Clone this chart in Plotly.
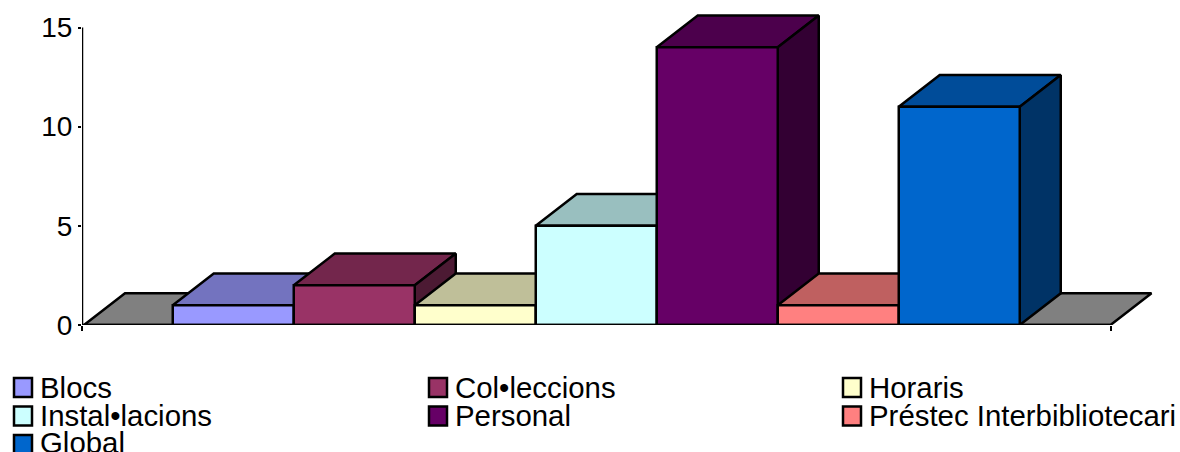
import plotly.graph_objects as go

categories = ["Blocs", "Col\u2022leccions", "Horaris", "Instal\u2022lacions", "Personal", "Préstec Interbibliotecari", "Global"]
values = [1, 2, 1, 5, 14, 1, 11]
colors = ["#9999FF", "#993366", "#FFFFCC", "#CCFFFF", "#660066", "#FF8080", "#0066CC"]
y_ticks = [0, 5, 10, 15]

W, H = 1180, 452
L, R, T, B = 82, 1160, 10, 325
BAR_PX = 121.0
XMIN = -0.75
XMAX = XMIN + (R - L) / BAR_PX
YMAX = (B - T) / (297.5 / 15)
DX = 41 / BAR_PX
DY = 1.6
AXIS_END = 7.75
LW = 2.5
FONT = "Liberation Sans, Arial, sans-serif"


def shade(hex_color, k):
    r, g, b = (int(hex_color[i:i + 2], 16) for i in (1, 3, 5))
    return f"rgb({round(r * k)},{round(g * k)},{round(b * k)})"


def poly(xs, ys, fill):
    return go.Scatter(x=xs + xs[:1], y=ys + ys[:1], mode="lines", fill="toself", fillcolor=fill,
                      line=dict(color="black", width=LW), cliponaxis=False,
                      showlegend=False, hoverinfo="skip")


fig = go.Figure()
fx = XMIN + 2 / BAR_PX
fig.add_trace(poly([fx, fx + DX, AXIS_END + DX, AXIS_END], [0, DY, DY, 0], "#808080"))
for i, (v, c) in enumerate(zip(values, colors)):
    fig.add_trace(poly([i, i + DX, i + 1 + DX, i + 1], [v, v + DY, v + DY, v], shade(c, 0.75)))
    fig.add_trace(poly([i + 1, i + 1 + DX, i + 1 + DX, i + 1], [0, DY, v + DY, v], shade(c, 0.5)))
    fig.add_trace(poly([i, i + 1, i + 1, i], [0, 0, v, v], c))
fig.add_trace(go.Scatter(x=[XMIN, XMIN], y=[0, 15], mode="lines", line=dict(color="black", width=LW),
                         cliponaxis=False, showlegend=False, hoverinfo="skip"))
fig.add_trace(go.Scatter(x=[XMIN, AXIS_END], y=[0, 0], mode="lines", line=dict(color="black", width=LW),
                         cliponaxis=False, showlegend=False, hoverinfo="skip"))

COLS = [13, 428, 842]
ROWS = [387, 415.5, 442.5]
SW = 19
SWATCH_ROWS = [387.5, 416, 444.5]
annotations, shapes = [], []
for i, (name, c) in enumerate(zip(categories, colors)):
    cx, cy, sy = COLS[i % 3], ROWS[i // 3], SWATCH_ROWS[i // 3]
    shapes.append(dict(type="rect", xref="paper", yref="paper", layer="above",
                       x0=(cx + 1 - L) / (R - L), x1=(cx + SW - L) / (R - L),
                       y0=(B - sy + SW / 2) / (B - T), y1=(B - sy - SW / 2) / (B - T),
                       fillcolor=c, line=dict(color="black", width=LW)))
    annotations.append(dict(text=name, showarrow=False, xref="paper", yref="paper",
                            x=(cx + 26 - L) / (R - L), y=(B - cy) / (B - T),
                            xanchor="left", yanchor="middle", align="left",
                            borderpad=0, font=dict(family=FONT, size=29.4, color="black")))

fig.update_layout(
    width=W, height=H, autosize=False, showlegend=False,
    margin=dict(l=L, r=W - R, t=T, b=H - B, pad=0),
    paper_bgcolor="white", plot_bgcolor="white",
    font=dict(family=FONT, color="black", size=28),
    annotations=annotations, shapes=shapes,
    xaxis=dict(range=[XMIN, XMAX], tickvals=[XMIN, AXIS_END], ticktext=["", ""], ticks="outside",
               ticklen=5, tickwidth=2, tickcolor="black", showgrid=False, zeroline=False, showline=False),
    yaxis=dict(range=[0, YMAX], tickvals=y_ticks, ticks="outside", ticklen=3, tickwidth=2,
               tickcolor="black", showgrid=False, zeroline=False, showline=False,
               ticklabelstandoff=0, tickfont=dict(family=FONT, size=28, color="black")),
)
fig.write_html("out.html", config={"displayModeBar": False},
               post_script="document.body.style.margin='0';document.body.style.overflow='hidden';")
